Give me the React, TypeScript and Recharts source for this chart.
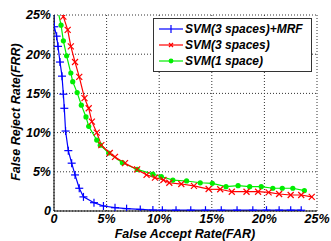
import React from 'react';
import { LineChart, Line, XAxis, YAxis, CartesianGrid } from 'recharts';

// FAR / FRR in percent
const mrfFar = [0, 0.03, 0.25, 0.38, 0.57, 0.76, 0.89, 0.98, 1.1, 1.36, 1.68, 2.0, 2.4, 2.8, 3.8, 4.7, 5.8, 6.9, 8.2, 9.4, 10.3, 11.6, 13.0, 14.4, 15.9, 17.4, 18.9, 20.2, 21.4, 22.5, 23.5];
const mrfFrr = [25.5, 23.5, 22.3, 21.0, 19.0, 17.2, 14.9, 13.1, 10.2, 7.7, 6.1, 4.6, 2.9, 1.8, 1.06, 0.64, 0.42, 0.3, 0.2, 0.12, 0.1, 0.1, 0.1, 0.1, 0.1, 0.1, 0.1, 0.1, 0.1, 0.1, 0.1];

const svm3Far = [0.6, 0.89, 1.3, 1.6, 2.0, 2.4, 2.9, 3.3, 3.6, 4.06, 4.5, 5.3, 5.8, 6.75, 7.9, 8.8, 9.6, 10.4, 10.96, 12.1, 13.3, 14.7, 15.8, 16.9, 18.3, 19.4, 20.4, 21.4, 22.5, 23.5, 24.5];
const svm3Frr = [26.5, 24.8, 23.1, 21.0, 19.0, 17.1, 14.4, 13.1, 11.4, 10.0, 8.4, 7.4, 6.9, 6.1, 5.3, 4.6, 4.25, 3.95, 3.6, 3.44, 3.2, 2.8, 2.77, 2.46, 2.46, 2.46, 2.38, 2.17, 2.04, 2.04, 1.8];

const svm1Far = [0.3, 0.67, 0.89, 1.2, 1.6, 1.78, 2.2, 2.6, 3.04, 3.3, 4.06, 4.4, 5.2, 6.5, 7.9, 9.4, 10.2, 11.3, 12.6, 13.9, 15.05, 16.35, 17.5, 18.6, 19.7, 20.8, 21.7, 22.7, 23.8];
const svm1Frr = [26.0, 23.7, 21.7, 19.8, 17.6, 16.5, 15.1, 13.5, 12.0, 10.8, 9.05, 8.4, 7.4, 6.16, 5.3, 4.7, 4.4, 3.95, 3.83, 3.6, 3.53, 3.1, 3.23, 3.1, 3.1, 2.9, 2.9, 2.9, 2.6];

const ticks = [0, 5, 10, 15, 20, 25];
const seriesNames = ['SVM(3 spaces)+MRF', 'SVM(3 spaces)', 'SVM(1 space)'];
const xTitle = 'False Accept Rate(FAR)';
const yTitle = 'False Reject Rate(FRR)';

const zip = (xs: number[], ys: number[]) => xs.map((x, i) => ({ far: x, frr: ys[i] }));
const mrfData = zip(mrfFar, mrfFrr);
const svm3Data = zip(svm3Far, svm3Frr);
const svm1Data = zip(svm1Far, svm1Frr);

const FONT = 'Arial, "Liberation Sans", sans-serif';
const fmt = (v: number) => (v === 0 ? '0' : `${v}%`);

const PlusDot = (p: any) => {
  const { cx, cy, stroke } = p;
  if (cx == null || cy == null || cy < 14) return <g key={p.key} />;
  return (
    <g key={p.key} stroke={stroke} strokeWidth={1.2}>
      <line x1={cx - 4} y1={cy} x2={cx + 4} y2={cy} />
      <line x1={cx} y1={cy - 4} x2={cx} y2={cy + 4} />
    </g>
  );
};

const CrossDot = (p: any) => {
  const { cx, cy, stroke } = p;
  if (cx == null || cy == null || cy < 14) return <g key={p.key} />;
  return (
    <g key={p.key} stroke={stroke} strokeWidth={1.2}>
      <line x1={cx - 3} y1={cy - 3} x2={cx + 3} y2={cy + 3} />
      <line x1={cx - 3} y1={cy + 3} x2={cx + 3} y2={cy - 3} />
    </g>
  );
};

const CircleDot = (p: any) => {
  const { cx, cy, stroke } = p;
  if (cx == null || cy == null || cy < 14) return <g key={p.key} />;
  return <circle key={p.key} cx={cx} cy={cy} r={2.6} fill={stroke} stroke="none" />;
};

const Legend = () => {
  const colors = ['#0000ff', '#ff0000', '#00ee00'];
  const rows = [29, 45, 61];
  return (
    <svg width={331} height={241} style={{ position: 'absolute', left: 0, top: 0, pointerEvents: 'none' }}>
      <rect x={153.5} y={18.5} width={158} height={53} fill="#fff" stroke="#333" strokeWidth={1} />
      {seriesNames.map((name, i) => {
        const y = rows[i];
        const c = colors[i];
        return (
          <g key={name}>
            <line x1={159} y1={y} x2={183} y2={y} stroke={c} strokeWidth={1.2} />
            {i === 0 && (
              <line x1={171} y1={y - 4} x2={171} y2={y + 4} stroke={c} strokeWidth={1.2} />
            )}
            {i === 1 && (
              <g stroke={c} strokeWidth={1.2}>
                <line x1={169} y1={y - 2} x2={173} y2={y + 2} />
                <line x1={169} y1={y + 2} x2={173} y2={y - 2} />
              </g>
            )}
            {i === 2 && <circle cx={171} cy={y} r={2.4} fill={c} />}
            <text
              x={185}
              y={y}
              dominantBaseline="central"
              fontFamily={FONT}
              fontSize={12}
              fontWeight="bold"
              fontStyle="italic"
              fill="#000"
            >
              {name}
            </text>
          </g>
        );
      })}
    </svg>
  );
};

const tickStyle = { fontFamily: FONT, fontSize: 12.5, fontWeight: 'bold', fontStyle: 'italic', fill: '#000' };

const XTitle = () => (
  <text x={185} y={234} textAnchor="middle" dominantBaseline="central" {...tickStyle}>
    {xTitle}
  </text>
);

const YTitle = () => (
  <text
    x={16}
    y={112}
    textAnchor="middle"
    dominantBaseline="central"
    transform="rotate(-90 16 112)"
    {...tickStyle}
  >
    {yTitle}
  </text>
);

const App: React.FC = () => {
  return (
    <div style={{ position: 'absolute', left: 0, top: 0, width: 331, height: 241, background: '#fff' }}>
      <LineChart width={331} height={241} margin={{ top: 15, right: 14, bottom: 0, left: 0 }}>
        <CartesianGrid stroke="#333" strokeDasharray="1 2" strokeWidth={1} />
        <XAxis
          type="number"
          dataKey="far"
          domain={[0, 25]}
          ticks={ticks}
          tickFormatter={fmt}
          allowDataOverflow
          height={30}
          tickSize={0}
          tickMargin={3}
          stroke="#000"
          tick={tickStyle}
          label={{ content: XTitle }}
        />
        <YAxis
          type="number"
          dataKey="frr"
          domain={[0, 25]}
          ticks={ticks}
          tickFormatter={fmt}
          allowDataOverflow
          width={54}
          tickSize={0}
          tickMargin={3}
          stroke="#000"
          tick={tickStyle}
          label={{ content: YTitle }}
        />
        <Line
          data={svm1Data}
          dataKey="frr"
          name={seriesNames[2]}
          stroke="#00ee00"
          strokeWidth={1.2}
          dot={CircleDot}
          isAnimationActive={false}
        />
        <Line
          data={svm3Data}
          dataKey="frr"
          name={seriesNames[1]}
          stroke="#ff0000"
          strokeWidth={1.2}
          dot={CrossDot}
          isAnimationActive={false}
        />
        <Line
          data={mrfData}
          dataKey="frr"
          name={seriesNames[0]}
          stroke="#0000ff"
          strokeWidth={1.2}
          dot={PlusDot}
          isAnimationActive={false}
        />
      </LineChart>
      <Legend />
    </div>
  );
};

export default App;
